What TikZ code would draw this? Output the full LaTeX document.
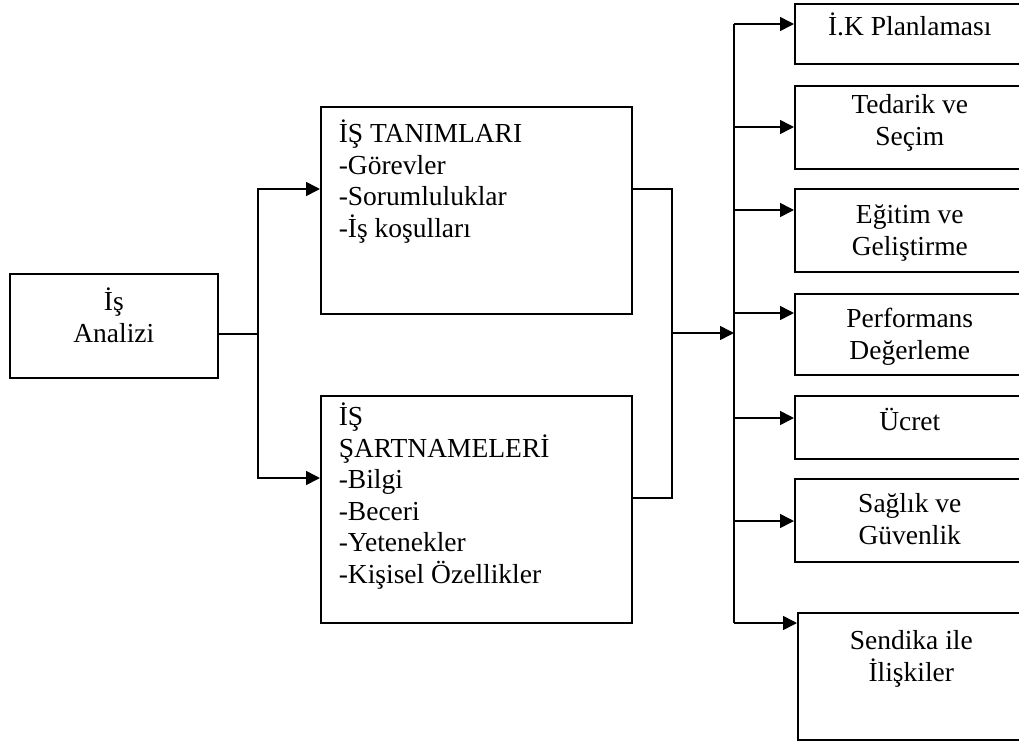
\documentclass[tikz,border=0pt]{standalone}
\usepackage{fontspec}
\setmainfont{Liberation Serif}
\usetikzlibrary{arrows.meta, calc, positioning}
\tikzset{>={Triangle[length=7pt, width=7pt]}, x=0.5pt, y=-0.5pt,
  kutu/.style={draw, line width=0.8pt, rectangle, inner sep=0pt, anchor=north west,
    font=\fontsize{13.75pt}{15.75pt}\selectfont},
  hat/.style={line width=0.8pt}}
% width, height, alignment, first baseline, text
\newcommand{\kutuyazi}[5]{\parbox[t][#2][t]{#1}{#3\rule{0pt}{#4}#5}}
\newcommand{\solda}{\raggedright\leftskip=9pt}

\begin{document}
\begin{tikzpicture}
  \clip (0,0) rectangle (1019,750);
  \node[kutu] (analiz) at (9,273) {\kutuyazi{104pt}{52pt}{\centering}{18.5pt}{İş\\Analizi}};
  \node[kutu] (tanim) at (320,106) {\kutuyazi{155.5pt}{103.5pt}{\solda}{18pt}{İŞ TANIMLARI\\-Görevler\\-Sorumluluklar\\-İş koşulları}};
  \node[kutu] (sartname) at (320,395) {\kutuyazi{155.5pt}{113.5pt}{\solda}{15pt}{İŞ\\ŞARTNAMELERİ\\-Bilgi\\-Beceri\\-Yetenekler\\-Kişisel Özellikler}};
  \node[kutu] (ik) at (794,3) {\kutuyazi{115pt}{30pt}{\centering}{16pt}{İ.K Planlaması}};
  \node[kutu] (tedarik) at (794,85) {\kutuyazi{115pt}{41.5pt}{\centering}{14pt}{Tedarik ve\\Seçim}};
  \node[kutu] (egitim) at (794,188) {\kutuyazi{115pt}{41.5pt}{\centering}{17.5pt}{Eğitim ve\\Geliştirme}};
  \node[kutu] (performans) at (794,293) {\kutuyazi{115pt}{40.5pt}{\centering}{17pt}{Performans\\Değerleme}};
  \node[kutu] (ucret) at (794,395) {\kutuyazi{115pt}{31.5pt}{\centering}{17.5pt}{Ücret}};
  \node[kutu] (saglik) at (794,478) {\kutuyazi{115pt}{41.5pt}{\centering}{17pt}{Sağlık ve\\Güvenlik}};
  \node[kutu] (sendika) at (797,612) {\kutuyazi{113.5pt}{63.5pt}{\centering}{18.5pt}{Sendika ile\\İlişkiler}};

  % sol dagitim
  \coordinate (sol) at (258,334);
  \coordinate (tanimgiris) at ($(tanim.north west)+(0,83)$);
  \coordinate (sartgiris) at ($(sartname.north west)+(0,83)$);
  \draw[hat] (analiz.east |- sol) -- (sol);
  \draw[hat,->] (sol) |- (tanimgiris);
  \draw[hat,->] (sol) |- (sartgiris);

  % orta toplama
  \coordinate (orta) at (672,333);
  \coordinate (sartcikis) at ($(sartname.north east)+(0,103)$);
  \coordinate (busust) at (734,24);
  \coordinate (busalt) at (734,623);
  \draw[hat] (tanim.east |- tanimgiris) -| (orta);
  \draw[hat] (sartcikis) -| (orta);
  \draw[hat,->] (orta) -- (orta -| busust);

  % sag dagitim
  \draw[hat] (busust) -- (busalt);
  \foreach \k/\d in {ik/21, tedarik/42, egitim/22, performans/20, ucret/23, saglik/43, sendika/11}{
    \coordinate (g\k) at ($(\k.north west)+(0,\d)$);
    \draw[hat,->] (busust |- g\k) -- (g\k);
  }
\end{tikzpicture}
\end{document}
